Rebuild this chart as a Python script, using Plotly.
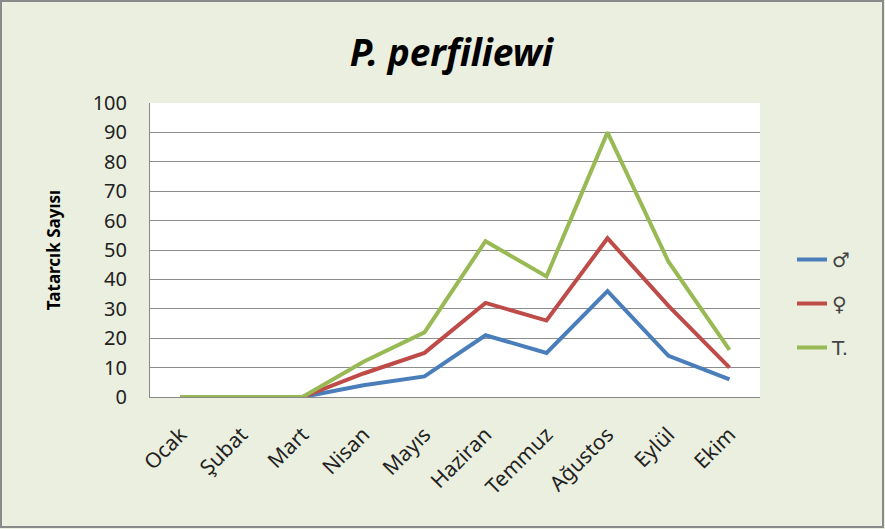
import plotly.graph_objs as go

months = ["Ocak", "Şubat", "Mart", "Nisan", "Mayıs", "Haziran",
          "Temmuz", "Ağustos", "Eylül", "Ekim"]
male = [0, 0, 0, 4, 7, 21, 15, 36, 14, 6]
female = [0, 0, 0, 8, 15, 32, 26, 54, 31, 10]
total = [0, 0, 0, 12, 22, 53, 41, 90, 46, 16]
y_ticks = [0, 10, 20, 30, 40, 50, 60, 70, 80, 90, 100]

W, H = 885, 529
L, R, T, B = 150, 125, 103, 132
pw, ph = W - L - R, H - T - B

series = [
    ("♂", male, "#4A7EBB"),
    ("♀", female, "#BE4B48"),
    ("T.", total, "#98B954"),
]

fig = go.Figure()
for name, vals, color in series:
    fig.add_trace(go.Scatter(
        x=list(range(len(months))),
        y=vals,
        name=name,
        mode="lines",
        line=dict(color=color, width=4),
        legendgroup=name,
    ))

fig.update_layout(
    width=W, height=H,
    margin=dict(l=L, r=R, t=T, b=B, autoexpand=False),
    paper_bgcolor="#EBEFDF",
    plot_bgcolor="white",
    font=dict(family="Noto Sans, Open Sans, sans-serif", color="#222"),
    title=dict(text="<b><i>P. perfiliewi</i></b>", x=0.51, xanchor="center",
               y=1 - 53 / H, yanchor="middle",
               font=dict(size=37, color="black")),
    showlegend=True,
    legend=dict(x=1 + 32 / pw, xanchor="left", y=(397 - 240) / ph, yanchor="top",
                font=dict(size=20, color="#444", family="DejaVu Sans"),
                bgcolor="rgba(0,0,0,0)",
                tracegroupgap=15, traceorder="grouped"),
    xaxis=dict(
        range=[-0.5, 9.5],
        tickmode="array",
        tickvals=list(range(len(months))),
        ticktext=months,
        tickangle=-45,
        tickfont=dict(size=21),
        ticklabelstandoff=16,
        showgrid=False,
        showline=True, linecolor="#888", linewidth=1,
        ticks="", zeroline=False,
    ),
    yaxis=dict(
        range=[0, 100],
        tickmode="array",
        tickvals=y_ticks,
        tickfont=dict(size=20),
        ticklabelstandoff=18,
        showgrid=True, gridcolor="#8C8C8C", gridwidth=1,
        showline=True, linecolor="#888", linewidth=1,
        zeroline=False, ticks="",
        title=dict(text="<b>Tatarcık Sayısı</b>", font=dict(size=17, color="black"),
                   standoff=27),
    ),
    shapes=[dict(
        type="rect", xref="paper", yref="paper",
        x0=(1 - L) / pw, x1=(W - 2 - L) / pw,
        y0=(397 - (H - 2)) / ph, y1=(397 - 1) / ph,
        line=dict(color="#8A8A8A", width=2), fillcolor="rgba(0,0,0,0)",
        layer="below",
    )],
)

fig.write_html("out.html", config={"displayModeBar": False},
               post_script="document.body.style.margin='0';")
